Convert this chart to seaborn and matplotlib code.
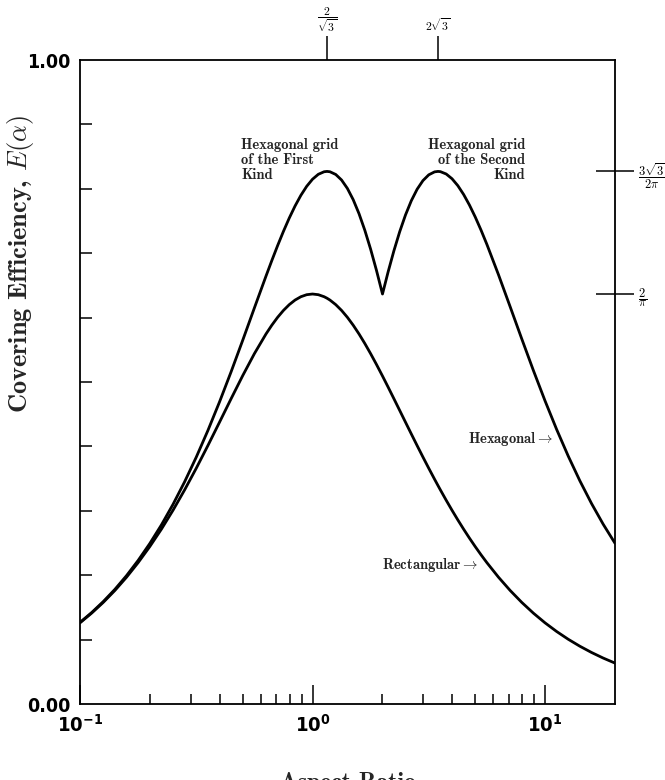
import numpy as np
import pandas as pd
import matplotlib
matplotlib.use("Agg")
import matplotlib.pyplot as plt
import seaborn as sns
from matplotlib.ticker import FixedLocator, NullLocator, NullFormatter

# ---- data ----
aspect_ratio = [0.1, 0.1122, 0.1259, 0.1413, 0.1585, 0.1778, 0.1995, 0.2239, 0.2512, 0.2818,
                0.3162, 0.3548, 0.3981, 0.4467, 0.5012, 0.5623, 0.6310, 0.66834, 0.7079, 0.74989,
                0.7943, 0.8414, 0.8913, 0.94406, 1.0, 1.05925, 1.122, 1.1547, 1.1885, 1.2589,
                1.33352, 1.4125, 1.49624, 1.5849, 1.6788, 1.7783, 1.88365, 2.0, 2.11349, 2.2387,
                2.37137, 2.5119, 2.66073, 2.8184, 2.98538, 3.1623, 3.34965, 3.4641, 3.5481, 3.75837,
                3.9811, 4.21697, 4.4668, 4.73151, 5.0119, 5.30884, 5.6234, 6.3096, 7.0795, 7.9433,
                8.9125, 10.0, 11.22, 12.589, 14.125, 15.849, 17.783, 20.0]
rectangular_eff = [0.12606, 0.14108, 0.15779, 0.17633, 0.19685, 0.21948, 0.24432, 0.27144, 0.30084, 0.33244,
                   0.36603, 0.40125, 0.43754, 0.47413, 0.51002, 0.54397, 0.57461, 0.58821, 0.60045, 0.61113,
                   0.62011, 0.62725, 0.63242, 0.63557, 0.63662, 0.63557, 0.63242, 0.63008, 0.62725, 0.62011,
                   0.61113, 0.60045, 0.58821, 0.57461, 0.55979, 0.54397, 0.52733, 0.50930, 0.49223, 0.47413,
                   0.45586, 0.43754, 0.41931, 0.40125, 0.38346, 0.36603, 0.34901, 0.33928, 0.33244, 0.31637,
                   0.30084, 0.28586, 0.27144, 0.25759, 0.24432, 0.23161, 0.21948, 0.19685, 0.17633, 0.15779,
                   0.14108, 0.12606, 0.11258, 0.10050, 0.08969, 0.08002, 0.07137, 0.06350]
hexagonal_eff = [0.12669, 0.14196, 0.15903, 0.17806, 0.19929, 0.22288, 0.24907, 0.27803, 0.30997, 0.34501,
                 0.38324, 0.42461, 0.46899, 0.51597, 0.56495, 0.61493, 0.66451, 0.68858, 0.71183, 0.73393,
                 0.75455, 0.77334, 0.78990, 0.80387, 0.81487, 0.82252, 0.82648, 0.82699, 0.82647, 0.82224,
                 0.81364, 0.80060, 0.78314, 0.76141, 0.73564, 0.70620, 0.67352, 0.63662, 0.67070, 0.70362,
                 0.73335, 0.75943, 0.78150, 0.79933, 0.81274, 0.82170, 0.82629, 0.82699, 0.82664, 0.82299,
                 0.81563, 0.80491, 0.79118, 0.77478, 0.75617, 0.73570, 0.71370, 0.66651, 0.61699, 0.56700,
                 0.51796, 0.47087, 0.42639, 0.38488, 0.34652, 0.31135, 0.27929, 0.24963]

x_tick_values = [0.1, 1.0, 10.0]
x_tick_labels = [r"$10^{-1}$", r"$10^{0}$", r"$10^{1}$"]
x_minor_values = [0.2, 0.3, 0.4, 0.5, 0.6, 0.7, 0.8, 0.9, 2, 3, 4, 5, 6, 7, 8, 9]
y_tick_values = [0.0, 1.0]
y_tick_labels = ["0.00", "1.00"]
y_minor_values = [0.1, 0.2, 0.3, 0.4, 0.5, 0.6, 0.7, 0.8, 0.9]
top_tick_values = [1.1547, 3.4641]
top_tick_labels = [r"$\dfrac{2}{\sqrt{3}}$", r"$2\sqrt{3}$"]
right_tick_values = [0.8270, 0.6366]
right_tick_labels = [r"$\dfrac{3\sqrt{3}}{2\pi}$", r"$\dfrac{2}{\pi}$"]

label_hex1 = "Hexagonal grid\nof the First\nKind"
label_hex2 = "Hexagonal grid\nof the Second\nKind"

sns.set_theme(style="white")
plt.rcParams.update({
    "axes.edgecolor": "black",
    "axes.linewidth": 1.3,
    "xtick.color": "black",
    "ytick.color": "black",
    "mathtext.fontset": "custom",
    "mathtext.rm": "DejaVu Sans:weight=bold:stretch=condensed",
    "mathtext.it": "DejaVu Sans:weight=bold:stretch=condensed",
    "mathtext.bf": "DejaVu Sans:weight=bold:stretch=condensed",
    "font.family": ["DejaVu Sans"],
})

n = len(aspect_ratio)
df = pd.DataFrame({
    "alpha": aspect_ratio + aspect_ratio,
    "eff": rectangular_eff + hexagonal_eff,
    "grid": ["Rectangular"] * n + ["Hexagonal"] * n,
})

fig = plt.figure(figsize=(6.65, 7.8), dpi=100)
ax = fig.add_axes([80 / 665, 76 / 780, 535 / 665, 644 / 780])
sns.lineplot(data=df, x="alpha", y="eff", hue="grid",
             palette={"Rectangular": "black", "Hexagonal": "black"},
             linewidth=2.0, legend=False, ax=ax)
ax.set_xscale("log")
ax.set_xlim(0.1, 20)
ax.set_ylim(0, 1)

serif_bold = dict(family="cmb10", math_fontfamily="cm")

# x ticks
ax.xaxis.set_major_locator(FixedLocator(x_tick_values))
ax.set_xticklabels(x_tick_labels)
ax.xaxis.set_minor_locator(FixedLocator(x_minor_values))
ax.xaxis.set_minor_formatter(NullFormatter())
ax.tick_params(axis="x", which="major", direction="in", length=14, width=1.1,
               top=True, bottom=True, labelsize=14.5, pad=7)
ax.tick_params(axis="x", which="minor", direction="in", length=7.5, width=1.1,
               top=True, bottom=True)

# y ticks
ax.yaxis.set_major_locator(FixedLocator(y_tick_values))
ax.set_yticklabels(y_tick_labels, family="DejaVu Sans", fontweight="bold",
                   fontstretch="condensed")
ax.yaxis.set_minor_locator(FixedLocator(y_minor_values))
ax.tick_params(axis="y", which="major", length=0, labelsize=14, pad=7)
ax.tick_params(axis="y", which="minor", direction="in", length=8.5, width=1.1,
               left=True, right=True)

ax.set_xlabel("Aspect Ratio", fontsize=17, **serif_bold)
ax.xaxis.set_label_coords(0.5, -0.106)
ax.set_ylabel(r"Covering Efficiency, $E(\alpha)$", fontsize=19, va="center", **serif_bold)
ax.yaxis.set_label_coords(-0.112, 0.683)

# top special ticks
ax_t = ax.twiny()
ax_t.set_xscale("log")
ax_t.set_xlim(0.1, 20)
ax_t.xaxis.set_major_locator(FixedLocator(top_tick_values))
ax_t.set_xticklabels(top_tick_labels)
ax_t.xaxis.set_minor_locator(NullLocator())
ax_t.tick_params(axis="x", direction="out", length=17, width=1.1, pad=2, labelsize=8.5)
for lab in ax_t.get_xticklabels():
    lab.set_math_fontfamily("cm")
for s in ax_t.spines.values():
    s.set_visible(False)

# right special ticks
ax_r = ax.twinx()
ax_r.set_ylim(0, 1)
ax_r.yaxis.set_major_locator(FixedLocator(right_tick_values))
ax_r.set_yticklabels(right_tick_labels)
ax_r.yaxis.set_minor_locator(NullLocator())
ax_r.tick_params(axis="y", direction="inout", length=27, width=1.1, pad=3, labelsize=9)
for lab in ax_r.get_yticklabels():
    lab.set_math_fontfamily("cm")
for s in ax_r.spines.values():
    s.set_visible(False)

# annotations
ax.text(0.4927, 0.879, label_hex1, ha="left", va="top", fontsize=10.5,
        linespacing=1.08, **serif_bold)
ax.text(8.20, 0.879, label_hex2, ha="right", va="top", fontsize=10.5,
        linespacing=1.08, multialignment="right", **serif_bold)
ax.text(10.82, 0.4115, r"Hexagonal$\rightarrow$", ha="right", va="center",
        fontsize=10.5, **serif_bold)
ax.text(5.15, 0.2158, r"Rectangular$\rightarrow$", ha="right", va="center",
        fontsize=10.5, **serif_bold)

fig.savefig("out.png", dpi=100)
